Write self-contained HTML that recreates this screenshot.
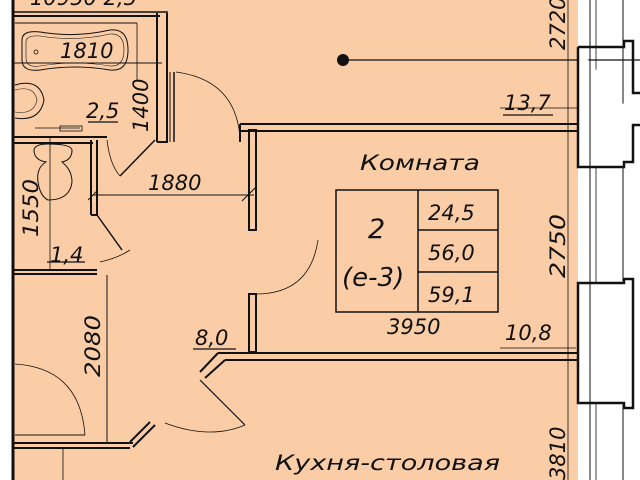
<!DOCTYPE html>
<html><head><meta charset="utf-8"><style>
html,body{margin:0;padding:0;background:#fff;}
svg{display:block}
text{font-family:"DejaVu Sans","Liberation Sans",sans-serif;font-style:italic;fill:#111;}
</style></head><body>
<svg width="640" height="480" viewBox="0 0 640 480" xmlns="http://www.w3.org/2000/svg">
<rect x="0" y="0" width="640" height="480" fill="#fff"/>
<rect x="13" y="0" width="565" height="480" fill="#FACDA6"/>
<g stroke="#111" fill="none">
<line x1="13" y1="0" x2="13" y2="480" stroke-width="3"/>
<line x1="13" y1="12" x2="168" y2="12" stroke-width="1.5"/>
<line x1="13" y1="16" x2="160" y2="16" stroke-width="2"/>
<line x1="13" y1="63" x2="162" y2="63" stroke-width="1"/>
<line x1="15" y1="23" x2="137" y2="23" stroke-width="1"/>
<line x1="137" y1="23" x2="137" y2="80" stroke-width="0.8"/>
<path d="M22,40 Q22,30 40,32 Q75,38 110,30 Q128,28 128,50 Q128,72 110,70 Q75,64 40,70 Q22,72 22,60 Z" stroke-width="1"/>
<path d="M26,42 Q26,35 40,36 Q75,42 110,34 Q124,33 124,50 Q124,67 110,66 Q75,60 40,66 Q26,68 26,58 Z" stroke-width="0.6"/>
<circle cx="36" cy="52" r="2" stroke-width="0.8"/>
<path d="M15,85 Q40,78 44,100 Q40,122 15,118" stroke-width="1"/>
<path d="M15,90 Q34,85 37,100 Q34,115 15,112" stroke-width="0.6"/>
<line x1="157" y1="13" x2="157" y2="142" stroke-width="2"/>
<line x1="167" y1="13" x2="167" y2="143" stroke-width="2"/>
<line x1="157" y1="142" x2="167" y2="142" stroke-width="2"/>
<line x1="13" y1="137" x2="107" y2="137" stroke-width="2"/>
<line x1="13" y1="143" x2="93" y2="143" stroke-width="2"/>
<line x1="35" y1="128" x2="80" y2="128" stroke-width="0.8"/>
<rect x="60" y="126" width="22" height="5" stroke-width="0.8"/>
<line x1="155" y1="140" x2="120" y2="176" stroke-width="1.5"/>
<path d="M107,140 Q110,165 120,176" stroke-width="0.8"/>
<path d="M34,150 Q35,144 48,144 Q71,144 72,150 Q72,160 62,162 Q72,170 72,182 Q70,200 48,200 Q40,196 38,182 Q36,168 46,162 Q34,160 34,150Z" stroke-width="1"/>
<line x1="50" y1="136" x2="50" y2="270" stroke-width="0.8"/>
<line x1="91" y1="140" x2="91" y2="215" stroke-width="2"/>
<line x1="97" y1="140" x2="97" y2="215" stroke-width="2"/>
<line x1="91" y1="215" x2="97" y2="215" stroke-width="2"/>
<line x1="97" y1="215" x2="122" y2="250" stroke-width="1.5"/>
<path d="M100,262 Q118,258 130,250" stroke-width="0.8"/>
<line x1="13" y1="270" x2="97" y2="270" stroke-width="2"/>
<line x1="13" y1="274" x2="97" y2="274" stroke-width="2"/>
<line x1="174" y1="72" x2="174" y2="142" stroke-width="1.5"/>
<line x1="170" y1="72" x2="170" y2="142" stroke-width="1"/>
<path d="M176,72 Q236,80 240,138" stroke-width="0.8"/>
<line x1="240" y1="124" x2="578" y2="124" stroke-width="2"/>
<line x1="240" y1="131" x2="578" y2="131" stroke-width="2"/>
<line x1="240" y1="124" x2="240" y2="142" stroke-width="2"/>
<rect x="249" y="130" width="7" height="100" stroke-width="2"/>
<rect x="249" y="294" width="7" height="58" stroke-width="2"/>
<path d="M256,294 Q310,294 318,240" stroke-width="0.8"/>
<line x1="93" y1="195" x2="254" y2="195" stroke-width="1"/>
<line x1="88" y1="200" x2="98" y2="190" stroke-width="1"/>
<line x1="242" y1="201" x2="256" y2="187" stroke-width="1"/>
<line x1="568" y1="0" x2="568" y2="480" stroke-width="0.8"/>
<line x1="343" y1="60" x2="640" y2="60" stroke-width="1.2"/>
<line x1="500" y1="108" x2="600" y2="108" stroke-width="0.8"/>
<line x1="500" y1="348" x2="576" y2="348" stroke-width="0.8"/>
<path d="M218,353 L578,353" stroke-width="2"/>
<path d="M225,360 L578,360" stroke-width="2"/>
<path d="M218,353 L200,372 M225,360 L205,378" stroke-width="2"/>
<line x1="200" y1="380" x2="245" y2="425" stroke-width="1.2"/>
<path d="M245,425 Q210,440 165,423" stroke-width="0.8"/>
<path d="M150,422 L130,442 M155,425 L133,447" stroke-width="2"/>
<line x1="13" y1="443" x2="133" y2="443" stroke-width="2"/>
<line x1="13" y1="448" x2="130" y2="448" stroke-width="2"/>
<line x1="63" y1="448" x2="63" y2="480" stroke-width="0.8"/>
<path d="M15,364 Q80,368 85,435" stroke-width="0.8"/>
<line x1="15" y1="435" x2="85" y2="435" stroke-width="1"/>
<line x1="107" y1="275" x2="107" y2="443" stroke-width="1"/>
<rect x="336" y="190" width="162" height="122" stroke-width="1.5"/>
<line x1="418" y1="190" x2="418" y2="312" stroke-width="1.5"/>
<line x1="418" y1="230" x2="498" y2="230" stroke-width="1.5"/>
<line x1="418" y1="272" x2="498" y2="272" stroke-width="1.5"/>
<line x1="590" y1="0" x2="590" y2="480" stroke-width="1"/>
<line x1="596" y1="0" x2="596" y2="480" stroke-width="0.8"/>
<line x1="623" y1="0" x2="623" y2="480" stroke-width="1"/>
<path d="M578,47 L624,47 L624,41 L633,41 L633,93 L640,93" stroke-width="2.5"/>
<path d="M640,125 L633,125 L633,162 L624,162 L624,167 L578,167 L578,47" stroke-width="2.5" fill="#fff"/>
<path d="M578,283 L624,283 L624,279 L633,279 L633,408 L624,408 L624,403 L578,403 Z" stroke-width="2.5" fill="#fff"/>
<line x1="590" y1="283" x2="590" y2="403" stroke-width="1"/>
<line x1="590" y1="47" x2="590" y2="167" stroke-width="1"/>
</g>
<circle cx="343" cy="60" r="6" fill="#111"/>
<g font-size="21">
<text x="360" y="170" textLength="120" lengthAdjust="spacingAndGlyphs">Комната</text>
<text x="368" y="238" font-size="27">2</text>
<text x="342" y="286" font-size="26">(e-3)</text>
<text x="428" y="220">24,5</text>
<text x="428" y="260">56,0</text>
<text x="428" y="302">59,1</text>
<text x="387" y="334">3950</text>
<text x="505" y="340">10,8</text>
<text x="504" y="110">13,7</text>
<text x="60" y="58">1810</text>
<text x="86" y="118">2,5</text>
<text x="148" y="190">1880</text>
<text x="50" y="262">1,4</text>
<text x="195" y="345">8,0</text>
<text x="275" y="470" textLength="225" lengthAdjust="spacingAndGlyphs">Кухня-столовая</text>
<text transform="translate(565,278) rotate(-90)" textLength="64" lengthAdjust="spacingAndGlyphs">2750</text>
<text transform="translate(565,50) rotate(-90)">2720</text>
<text transform="translate(565,480) rotate(-90)">3810</text>
<text transform="translate(100,377) rotate(-90)" textLength="62" lengthAdjust="spacingAndGlyphs">2080</text>
<text transform="translate(38,237) rotate(-90)" textLength="58" lengthAdjust="spacingAndGlyphs">1550</text>
<text transform="translate(148,132) rotate(-90)">1400</text>
<text x="30" y="5">10950 2,5</text>
</g>
<g stroke="#111" stroke-width="1.2">
<line x1="88" y1="122" x2="118" y2="122"/>
<line x1="503" y1="115" x2="553" y2="115"/>
<line x1="193" y1="349" x2="236" y2="349"/>
<line x1="47" y1="262" x2="85" y2="262"/>
</g>
</svg>
</body></html>
